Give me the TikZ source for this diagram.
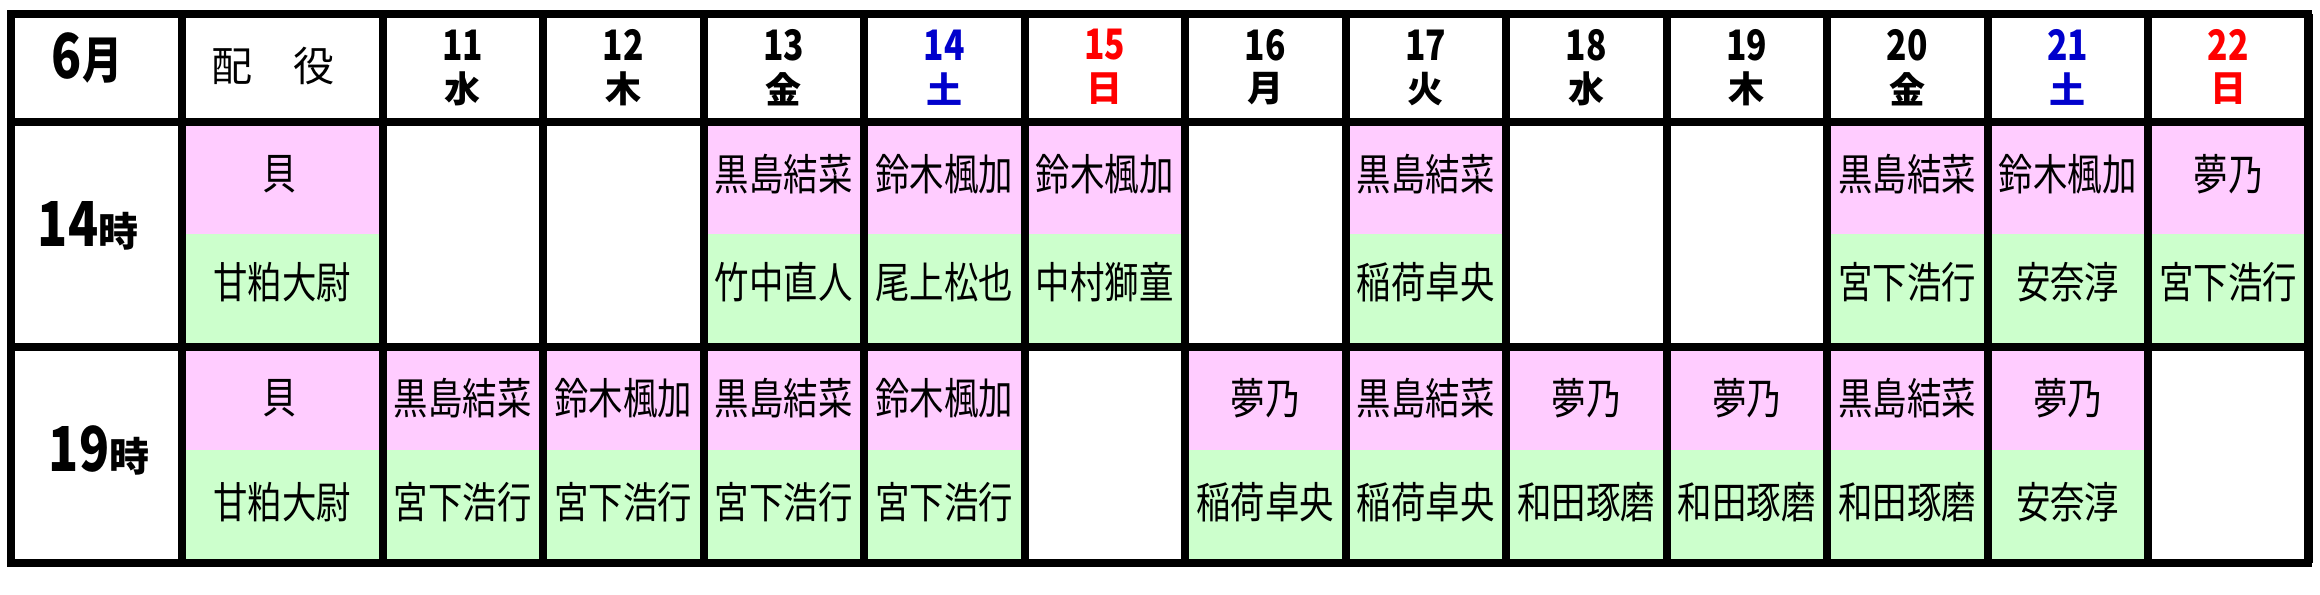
\documentclass[tikz,border=0pt]{standalone}
\usepackage{fontspec}
\newfontfamily\jp{Noto Sans CJK JP}
\newfontfamily\jpn[FakeStretch=0.8]{Noto Sans CJK JP}
\newfontfamily\jpc[FakeStretch=0.8]{Noto Sans CJK JP}
\definecolor{pk}{HTML}{FFCCFF}
\definecolor{gr}{HTML}{CCFFCC}
\definecolor{sat}{HTML}{0000CC}
\definecolor{sun}{HTML}{FF0000}
\begin{document}
\begin{tikzpicture}[x=1bp,y=-1bp,
  namebox/.style={inner sep=0pt, font=\jpn\fontsize{43bp}{43bp}\selectfont},
  daynum/.style={inner sep=0pt, font=\jpc\bfseries\fontsize{42bp}{42bp}\selectfont},
  wday/.style={inner sep=0pt, font=\jp\bfseries\fontsize{36bp}{36bp}\selectfont},
  rolehead/.style={inner sep=0pt, font=\jp\fontsize{41bp}{41bp}\selectfont},
  grid/.style={line width=8bp, draw=black}]
\useasboundingbox (0,0) rectangle (2320,595);
% role column fills
\fill[pk] (181.5,122) rectangle (382.5,234);
\fill[gr] (181.5,234) rectangle (382.5,347);
\fill[pk] (181.5,347) rectangle (382.5,450);
\fill[gr] (181.5,450) rectangle (382.5,563);
% 14 row fills
\foreach \k in {2,3,4,6,9,10,11}{
  \fill[pk] ({382.5+160.5*\k},122) rectangle ({382.5+160.5*(\k+1)},234);
  \fill[gr] ({382.5+160.5*\k},234) rectangle ({382.5+160.5*(\k+1)},347);
}
% 19 row fills
\foreach \k in {0,1,2,3,5,6,7,8,9,10}{
  \fill[pk] ({382.5+160.5*\k},347) rectangle ({382.5+160.5*(\k+1)},450);
  \fill[gr] ({382.5+160.5*\k},450) rectangle ({382.5+160.5*(\k+1)},563);
}
% grid lines
\foreach \k in {0,...,12}{
  \draw[grid] ({382.5+160.5*\k},14) -- ({382.5+160.5*\k},563);
}
\draw[grid] (181.5,14) -- (181.5,563);
\draw[grid] (11,122) -- (2308,122);
\draw[grid] (11,347) -- (2308,347);
\draw[grid, line join=miter] (11,14) rectangle (2308,563);
% header
\node[inner sep=0pt, font=\jpc\bfseries\fontsize{62bp}{62bp}\selectfont] (month) at (87,58) {6\fontsize{50bp}{50bp}\selectfont 月};
\node[rolehead] (role) at (273,66) {配　役};
\foreach \k/\d/\w/\c in {0/11/水/black,1/12/木/black,2/13/金/black,3/14/土/sat,4/15/日/sun,5/16/月/black,6/17/火/black,7/18/水/black,8/19/木/black,9/20/金/black,10/21/土/sat,11/22/日/sun}{
  \node[daynum, text=\c] (d\k) at ({462.75+160.5*\k},45) {\d};
  \node[wday, text=\c] (w\k) at ({462.75+160.5*\k},89) {\w};
}
% time labels
\node[inner sep=0pt, font=\jpc\bfseries\fontsize{62bp}{62bp}\selectfont] (t14) at (88,226) {14\jp\fontsize{40bp}{40bp}\selectfont 時};
\node[inner sep=0pt, font=\jpc\bfseries\fontsize{62bp}{62bp}\selectfont] (t19) at (99,450) {19\jp\fontsize{40bp}{40bp}\selectfont 時};
% role names
\node[namebox] (r14a) at (280,174) {貝};
\node[namebox] (r14b) at (282,282) {甘粕大尉};
\node[namebox] (r19a) at (280,398) {貝};
\node[namebox] (r19b) at (282,502) {甘粕大尉};
% 14 row names
\foreach \k/\a/\b in {2/黒島結菜/竹中直人,3/鈴木楓加/尾上松也,4/鈴木楓加/中村獅童,6/黒島結菜/稲荷卓央,9/黒島結菜/宮下浩行,10/鈴木楓加/安奈淳,11/夢乃/宮下浩行}{
  \node[namebox] (p14-\k) at ({462.75+160.5*\k},174) {\a};
  \node[namebox] (g14-\k) at ({462.75+160.5*\k},282) {\b};
}
% 19 row names
\foreach \k/\a/\b in {0/黒島結菜/宮下浩行,1/鈴木楓加/宮下浩行,2/黒島結菜/宮下浩行,3/鈴木楓加/宮下浩行,5/夢乃/稲荷卓央,6/黒島結菜/稲荷卓央,7/夢乃/和田琢磨,8/夢乃/和田琢磨,9/黒島結菜/和田琢磨,10/夢乃/安奈淳}{
  \node[namebox] (p19-\k) at ({462.75+160.5*\k},398) {\a};
  \node[namebox] (g19-\k) at ({462.75+160.5*\k},502) {\b};
}
\end{tikzpicture}
\end{document}
